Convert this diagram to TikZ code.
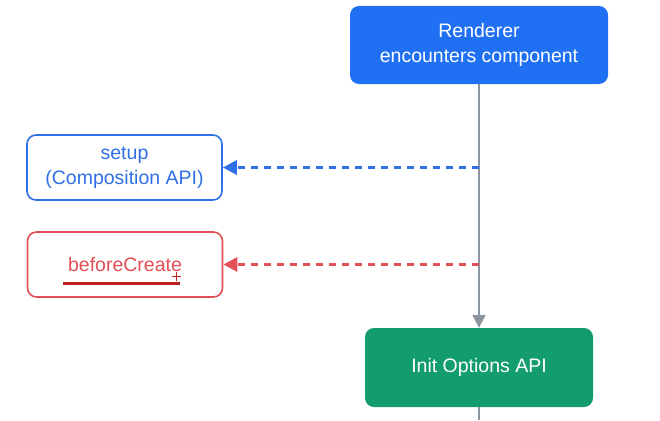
\documentclass[tikz,border=0pt]{standalone}
\usepackage{fontspec}
\setmainfont{Liberation Sans}
\usepackage{tikz}
\usetikzlibrary{arrows.meta}
\definecolor{vblue}{RGB}{32,112,244}
\definecolor{vline}{RGB}{48,112,230}
\definecolor{vred}{RGB}{226,80,86}
\definecolor{vdark}{RGB}{190,32,32}
\definecolor{vgreen}{RGB}{18,156,112}
\definecolor{vgray}{RGB}{140,150,160}
\tikzset{
  solidbox/.style={rounded corners=9pt, draw=none, text=white, align=center,
              font=\fontsize{19.5}{24.5}\selectfont},
  hookbox/.style={rounded corners=9pt, line width=1.6pt, fill=white, align=center,
              font=\fontsize{19.5}{24.5}\selectfont, minimum width=195pt, minimum height=65pt},
  mainflow/.style={-{Triangle[length=13pt,width=13pt]}, vgray, line width=2.2pt},
  callflow/.style={-{Triangle[length=14pt,width=14pt]}, line width=3pt,
              dash pattern=on 7pt off 6pt},
}

\begin{document}
\begin{tikzpicture}[x=1pt,y=-1pt]
        \useasboundingbox (0,0) rectangle (660,420);
        \node[solidbox, fill=vblue, minimum width=258pt, minimum height=78pt] (renderer) at (479,45)
             {Renderer\\encounters component};
        \node[solidbox, fill=vgreen, minimum width=228pt, minimum height=79pt] (initopts) at (479,367.5)
             {Init Options API};
        \node[hookbox, draw=vline, text=vline] (setup) at (124.5,167.5) {setup\\(Composition API)};
        \node[hookbox, draw=vred, text=vred] (beforecreate) at (125,264.5) {beforeCreate};
        \coordinate (bottom) at (479,420);
        \draw[mainflow] (renderer.south) -- (initopts.north);
        \draw[vgray, line width=2.2pt] (initopts.south) -- (bottom);
        \draw[callflow, vline] (renderer.south |- setup.east) -- (setup.east);
        \draw[callflow, vred] (renderer.south |- beforecreate.east) -- (beforecreate.east);
        % hand-drawn mark under the red label
        \draw[vdark, line width=2.6pt] (63,283.5) -- (180,283.5);
        \draw[vdark, line width=1pt] (172,276) -- (181,276) (176.5,271.5) -- (176.5,280.5);
      \end{tikzpicture}
\end{document}
